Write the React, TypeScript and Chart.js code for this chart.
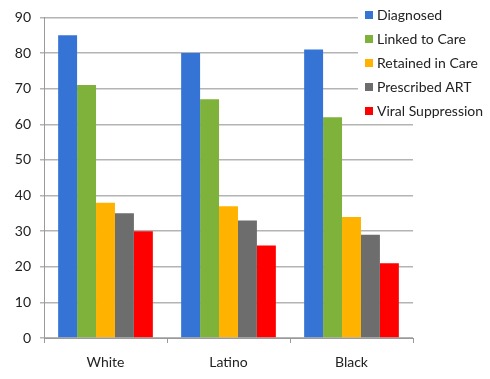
import React, { useEffect, useRef } from "react";
import { Chart, registerables } from "chart.js";

Chart.register(...registerables);

const categories = ["White", "Latino", "Black"];
const seriesNames = ["Diagnosed", "Linked to Care", "Retained in Care", "Prescribed ART", "Viral Suppression"];
const diagnosed = [85, 80, 81];
const linkedToCare = [71, 67, 62];
const retainedInCare = [38, 37, 34];
const prescribedART = [35, 33, 29];
const viralSuppression = [30, 26, 21];
const seriesColors = ["#3574d4", "#7fb23a", "#ffb300", "#6d6d6d", "#ff0000"];
const yTicks = [0, 10, 20, 30, 40, 50, 60, 70, 80, 90];

const FONT = "Lato, 'Open Sans', sans-serif";

const legendPlugin = {
  id: "overlayLegend",
  afterDraw(chart: any) {
    const ctx = chart.ctx;
    ctx.save();
    ctx.fillStyle = "#ffffff";
    ctx.fillRect(358, 0, 132, 124);
    ctx.font = `14px ${FONT}`;
    ctx.textBaseline = "middle";
    ctx.textAlign = "left";
    chart.data.datasets.forEach((ds: any, i: number) => {
      const y = 15 + i * 24;
      ctx.fillStyle = ds.backgroundColor;
      ctx.fillRect(365, y - 4, 8, 8);
      ctx.fillStyle = "#222222";
      ctx.fillText(ds.label, 377, y);
    });
    ctx.restore();
  },
};

export default function App() {
  const ref = useRef<HTMLCanvasElement | null>(null);
  useEffect(() => {
    document.body.style.margin = "0";
    const values = [diagnosed, linkedToCare, retainedInCare, prescribedART, viralSuppression];
    const chart = new Chart(ref.current as HTMLCanvasElement, {
      type: "bar",
      data: {
        labels: categories,
        datasets: seriesNames.map((name, i) => ({
          label: name,
          data: values[i],
          backgroundColor: seriesColors[i],
          borderWidth: 0,
          barPercentage: 1,
          categoryPercentage: 0.77,
        })),
      },
      options: {
        animation: false,
        responsive: false,
        layout: { padding: { left: 0, right: 77, top: 16, bottom: 0 } },
        plugins: { legend: { display: false }, tooltip: { enabled: false } },
        scales: {
          x: {
            grid: {
              offset: true,
              drawOnChartArea: false,
              drawTicks: true,
              tickLength: 5,
              color: "#9a9a9a",
            },
            border: { color: "#9a9a9a" },
            ticks: { font: { family: FONT, size: 14 }, color: "#222222", padding: 11 },
            afterFit: (s: any) => {
              s.height = 41;
            },
          },
          y: {
            min: 0,
            max: 90,
            afterBuildTicks: (s: any) => {
              s.ticks = yTicks.map((v) => ({ value: v }));
            },
            grid: { color: "#b4b4b4", tickLength: 4, lineWidth: 1.5 },
            border: { color: "#9a9a9a" },
            ticks: { font: { family: FONT, size: 14 }, color: "#222222", padding: 9 },
            afterFit: (s: any) => {
              s.width = 44;
            },
          },
        },
      },
      plugins: [legendPlugin],
    });
    return () => chart.destroy();
  }, []);
  return (
    <div style={{ width: 490, height: 379 }}>
      <canvas ref={ref} width={490} height={379} style={{ display: "block" }} />
    </div>
  );
}
